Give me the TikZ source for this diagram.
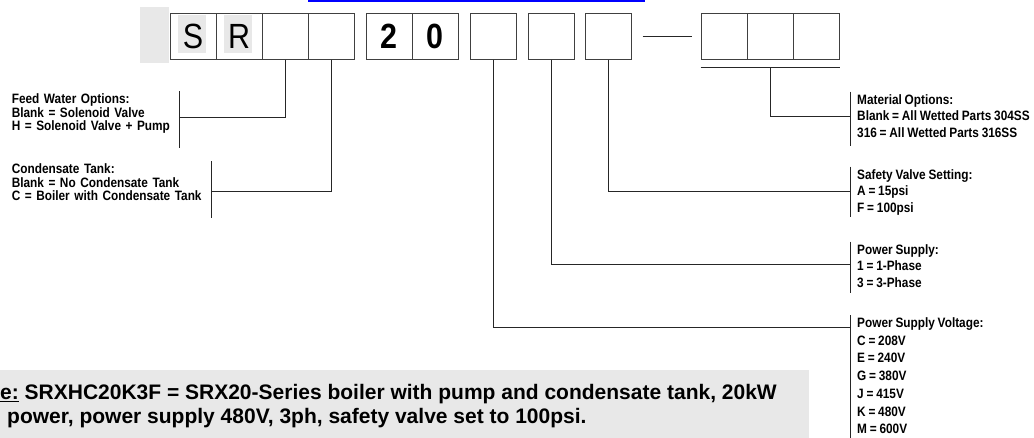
\documentclass[tikz,border=0pt]{standalone}
\usepackage{fontspec}
\setmainfont{Liberation Sans}
\newfontfamily\narrowsf[FakeStretch=0.87,WordSpace=0.85]{Liberation Sans}
\usetikzlibrary{calc}
\tikzset{digit/.style={draw=black!75,line width=1pt,minimum size=46pt,inner sep=0pt,font=\narrowsf\fontsize{35}{38}\selectfont},
  conn/.style={draw=black!85,line width=.8pt},
  hl/.style={fill=gray!18},
  lbl/.style={font=\narrowsf\bfseries\fontsize{13.6}{13.5}\selectfont,align=left,inner xsep=7pt,inner ysep=2.5pt},
  rlbl/.style={font=\narrowsf\bfseries\fontsize{13.6}{16.7}\selectfont,align=left,inner xsep=7pt,inner ysep=2.5pt}}

\begin{document}
\begin{tikzpicture}[x=1pt,y=-1pt]
\useasboundingbox (0,0) rectangle (1034,437);
\draw[blue,line width=1.5pt] (308,1) -- (645,1);
\fill[hl] (140,7) rectangle (168.5,63);
\fill[hl] (177.6,15) rectangle (205.6,53);
\fill[hl] (224,15) rectangle (251.5,53);
\node[digit] (b1) at (193,36) {S};
\node[digit] (b2) at (239,36) {R};
\node[digit] (b3) at (285,36) {};
\node[digit] (b4) at (331,36) {};
\node[digit,font=\narrowsf\bfseries\fontsize{35}{38}\selectfont] (b5) at (389,36) {2};
\node[digit,font=\narrowsf\bfseries\fontsize{35}{38}\selectfont] (b6) at (435,36) {0};
\node[digit] (b7) at (493,36) {};
\node[digit] (b8) at (551,36) {};
\node[digit] (b9) at (608,36) {};
\node[digit] (b10) at (724,36) {};
\node[digit] (b11) at (770,36) {};
\node[digit] (b12) at (816,36) {};
\draw[conn] ([xshift=11pt]b9.east) -- ([xshift=-9pt]b10.west);
\draw[conn] ([yshift=-8pt]b10.south west) -- ([yshift=-8pt]b12.south east);
\node[lbl,text width=160pt,anchor=north east] (feed) at (179,91) {Feed Water Options:\\Blank = Solenoid Valve\\H = Solenoid Valve + Pump};
\draw[conn] (feed.north east) -- ++(0,57);
\draw[conn] (b3.south) |- ([yshift=-26pt]feed.north east);
\node[lbl,text width=192pt,anchor=north east] (cond) at (211,161) {Condensate Tank:\\Blank = No Condensate Tank\\C = Boiler with Condensate Tank};
\draw[conn] (cond.north east) -- ++(0,57);
\draw[conn] (b4.south) |- ([yshift=-30pt]cond.north east);
\node[rlbl,anchor=north west] (mat) at (850,91.7) {Material Options:\\Blank = All Wetted Parts 304SS\\316 = All Wetted Parts 316SS};
\draw[conn] (mat.north west) -- ++(0,54.3);
\draw[conn] ([yshift=-8pt]b11.south) |- ([yshift=-25pt]mat.north west);
\node[rlbl,anchor=north west] (safety) at (850,166.7) {Safety Valve Setting:\\A = 15psi\\F = 100psi};
\draw[conn] (safety.north west) -- ++(0,50);
\draw[conn] (b9.south) |- ([yshift=-25pt]safety.north west);
\node[rlbl,anchor=north west] (power) at (850,241.7) {Power Supply:\\1 = 1-Phase\\3 = 3-Phase};
\draw[conn] (power.north west) -- ++(0,51.6);
\draw[conn] (b8.south) |- ([yshift=-22.3pt]power.north west);
\node[rlbl,font=\narrowsf\bfseries\fontsize{13.6}{17.7}\selectfont,anchor=north west] (volt) at (850,315) {Power Supply Voltage:\\C = 208V\\E = 240V\\G = 380V\\J = 415V\\K = 480V\\M = 600V};
\draw[conn] (volt.north west) -- ++(0,125);
\draw[conn] (b7.south) |- ([yshift=-12pt]volt.north west);
\fill[hl] (-1,370) rectangle (809,438);
\node[anchor=north west,inner sep=0pt,align=left,font=\bfseries\fontsize{21}{24}\selectfont] (ex) at (0,384) {\underline{e:} SRXHC20K3F = SRX20-Series boiler with pump and condensate tank, 20kW\\\hspace*{7pt}power, power supply 480V, 3ph, safety valve set to 100psi.};
\end{tikzpicture}
\end{document}
